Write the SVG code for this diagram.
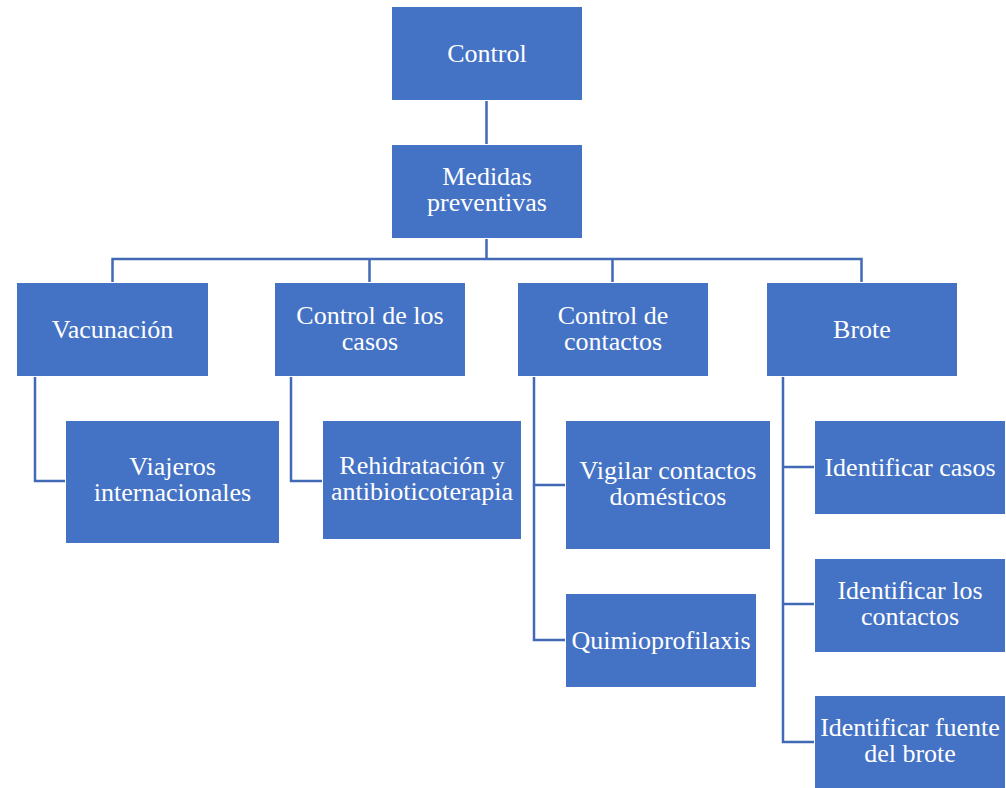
<svg xmlns="http://www.w3.org/2000/svg" width="1006" height="788" viewBox="0 0 1006 788">
  <style>
    .box { fill: #4472C4; stroke: #FFFFFF; stroke-width: 1; }
    .lbl { font-family: "Liberation Serif", "Times New Roman", serif; font-size: 26px; fill: #FFFFFF; text-anchor: middle; }
    .wire { fill: none; stroke: #4169B5; stroke-width: 2.5; }
  </style>
  <rect width="1006" height="788" fill="#FFFFFF"/>

  <!-- connectors -->
  <g id="connectors">
    <path class="wire" d="M486.5 100 V144"/>
    <path class="wire" d="M486.5 238 V259"/>
    <path class="wire" d="M112.5 282 V259 H861.5 V282"/>
    <path class="wire" d="M369.5 259 V282"/>
    <path class="wire" d="M612.5 259 V282"/>
    <path class="wire" d="M35 376 V481 H65"/>
    <path class="wire" d="M291 376 V481 H322"/>
    <path class="wire" d="M534 376 V640 H565"/>
    <path class="wire" d="M534 485 H565"/>
    <path class="wire" d="M783 376 V742 H814"/>
    <path class="wire" d="M783 467 H814"/>
    <path class="wire" d="M783 604 H814"/>
  </g>

  <!-- level 0 -->
  <g id="control">
    <rect class="box" x="391.5" y="6.5" width="191" height="94"/>
    <text class="lbl" x="487" y="62">Control</text>
  </g>
  <g id="medidas-preventivas">
    <rect class="box" x="391.5" y="144.5" width="191" height="94"/>
    <text class="lbl" x="487" y="185">Medidas</text>
    <text class="lbl" x="487" y="211">preventivas</text>
  </g>

  <!-- level 1 -->
  <g id="vacunacion">
    <rect class="box" x="16.5" y="282.5" width="192" height="94"/>
    <text class="lbl" x="112.5" y="338">Vacunación</text>
  </g>
  <g id="control-casos">
    <rect class="box" x="274.5" y="282.5" width="191" height="94"/>
    <text class="lbl" x="370" y="324">Control de los</text>
    <text class="lbl" x="370" y="350">casos</text>
  </g>
  <g id="control-contactos">
    <rect class="box" x="517.5" y="282.5" width="191" height="94"/>
    <text class="lbl" x="613" y="324">Control de</text>
    <text class="lbl" x="613" y="350">contactos</text>
  </g>
  <g id="brote">
    <rect class="box" x="766.5" y="282.5" width="191" height="94"/>
    <text class="lbl" x="862" y="338">Brote</text>
  </g>

  <!-- level 2 -->
  <g id="viajeros">
    <rect class="box" x="65.5" y="420.5" width="214" height="123"/>
    <text class="lbl" x="172.5" y="475">Viajeros</text>
    <text class="lbl" x="172.5" y="501">internacionales</text>
  </g>
  <g id="rehidratacion">
    <rect class="box" x="322.5" y="420.5" width="199" height="119"/>
    <text class="lbl" x="422" y="474">Rehidratación y</text>
    <text class="lbl" x="422" y="500">antibioticoterapia</text>
  </g>
  <g id="vigilar">
    <rect class="box" x="565.5" y="420.5" width="205" height="129"/>
    <text class="lbl" x="668" y="479">Vigilar contactos</text>
    <text class="lbl" x="668" y="505">domésticos</text>
  </g>
  <g id="quimioprofilaxis">
    <rect class="box" x="565.5" y="593.5" width="191" height="94"/>
    <text class="lbl" x="661" y="649">Quimioprofilaxis</text>
  </g>
  <g id="identificar-casos">
    <rect class="box" x="814.5" y="420.5" width="191" height="94"/>
    <text class="lbl" x="910" y="476">Identificar casos</text>
  </g>
  <g id="identificar-contactos">
    <rect class="box" x="814.5" y="558.5" width="191" height="94"/>
    <text class="lbl" x="910" y="599">Identificar los</text>
    <text class="lbl" x="910" y="625">contactos</text>
  </g>
  <g id="identificar-fuente">
    <rect class="box" x="814.5" y="695.5" width="191" height="93"/>
    <text class="lbl" x="910" y="736">Identificar fuente</text>
    <text class="lbl" x="910" y="762">del brote</text>
  </g>
</svg>
